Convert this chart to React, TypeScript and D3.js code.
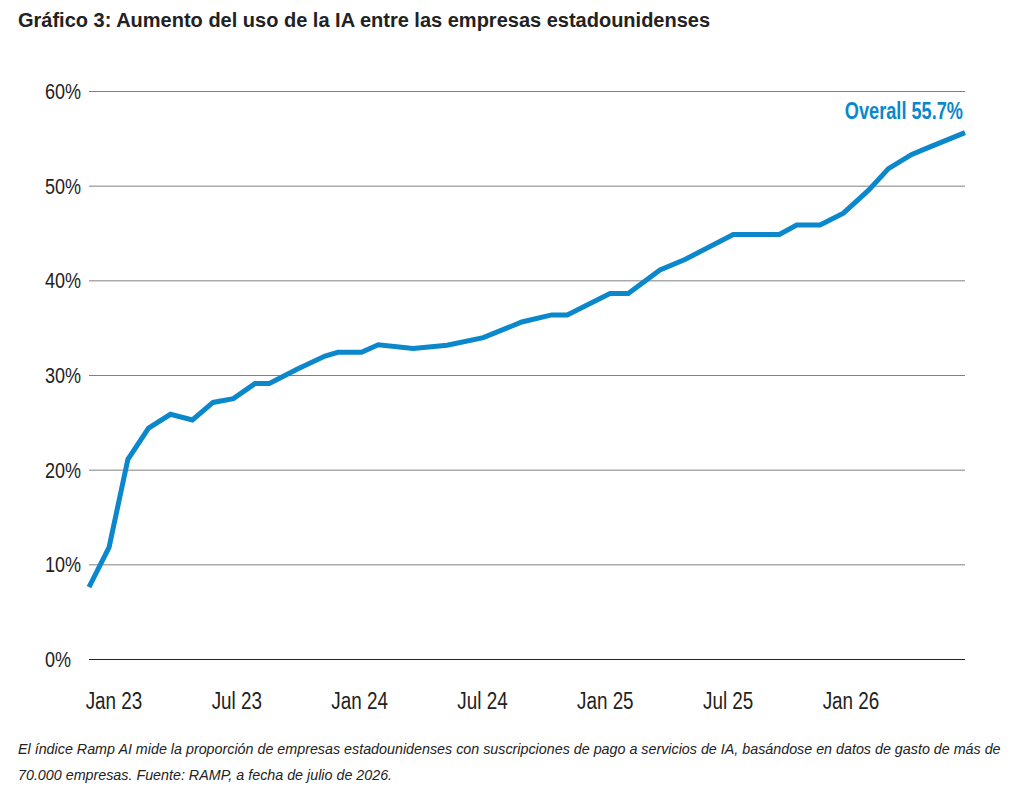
import React, { useEffect, useRef } from "react";
import * as d3 from "d3";

// x values are months counted from Jan 2023
const monthsFromJan23 = [
  -1.22, -0.24, 0.68, 1.69, 2.76, 3.83, 4.84, 5.83, 6.89, 7.59, 8.94, 10.31,
  10.94, 12.09, 12.91, 14.61, 16.27, 18.04, 19.92, 21.38, 22.14, 24.23, 25.12,
  26.67, 27.89, 30.25, 32.5, 33.35, 34.49, 35.63, 36.85, 37.83, 38.97, 39.86,
  41.57,
];
const overallShare = [
  7.6, 11.8, 21.1, 24.4, 25.85, 25.25, 27.1, 27.5, 29.1, 29.1, 30.6, 32.0,
  32.4, 32.4, 33.2, 32.8, 33.15, 33.95, 35.6, 36.35, 36.35, 38.6, 38.6, 41.1,
  42.2, 44.85, 44.85, 45.85, 45.85, 47.1, 49.5, 51.8, 53.3, 54.1, 55.6,
];
const xTickMonths = [0, 6, 12, 18, 24, 30, 36];
const xTickLabels = ["Jan 23", "Jul 23", "Jan 24", "Jul 24", "Jan 25", "Jul 25", "Jan 26"];
const yTicks = [0, 10, 20, 30, 40, 50, 60];

const title = "Gráfico 3: Aumento del uso de la IA entre las empresas estadounidenses";
const endLabel = "Overall 55.7%";
const notes = [
  "El índice Ramp AI mide la proporción de empresas estadounidenses con suscripciones de pago a servicios de IA, basándose en datos de gasto de más de",
  "70.000 empresas. Fuente: RAMP, a fecha de julio de 2026.",
];

const W = 1020;
const H = 807;
const BLUE = "#0a88cb";
const SANS = "'Liberation Sans', Arial, sans-serif";
// no narrow face installed, so squeeze the regular one
const NARROW_X = 0.82;

const App = () => {
  const ref = useRef<SVGSVGElement>(null);

  useEffect(() => {
    if (!ref.current) return;
    const svg = d3.select(ref.current);
    svg.selectAll("*").remove();

    const x = d3.scaleLinear().domain([monthsFromJan23[0], monthsFromJan23[monthsFromJan23.length - 1]]).range([89, 965]);
    const y = d3.scaleLinear().domain([0, 60]).range([659, 91]);

    svg
      .append("text")
      .attr("x", 18)
      .attr("y", 27)
      .attr("font-family", SANS)
      .attr("font-weight", "bold")
      .attr("font-size", 20)
      .attr("fill", "#222")
      .text(title);

    // grid
    svg
      .append("g")
      .selectAll("line")
      .data(yTicks)
      .join("line")
      .attr("x1", 89)
      .attr("x2", 965)
      .attr("y1", (d) => y(d) + 0.5)
      .attr("y2", (d) => y(d) + 0.5)
      .attr("stroke", (d) => (d === 0 ? "#222" : "#808080"))
      .attr("stroke-width", 1);

    svg
      .append("g")
      .selectAll("text")
      .data(yTicks)
      .join("text")
      .attr("transform", (d) => `translate(45,${y(d) + 8}) scale(${NARROW_X},1)`)
      .attr("font-family", SANS)
      .attr("font-size", 22)
      .attr("fill", "#222")
      .text((d) => `${d}%`);

    svg
      .append("g")
      .selectAll("text")
      .data(xTickMonths)
      .join("text")
      .attr("transform", (d) => `translate(${x(d)},709) scale(${NARROW_X},1)`)
      .attr("text-anchor", "middle")
      .attr("font-family", SANS)
      .attr("font-size", 23)
      .attr("fill", "#222")
      .text((d, i) => xTickLabels[i]);

    const pts = monthsFromJan23.map((m, i) => [m, overallShare[i]] as [number, number]);
    const line = d3
      .line<[number, number]>()
      .x((d) => x(d[0]))
      .y((d) => y(d[1]));

    svg
      .append("path")
      .attr("d", line(pts))
      .attr("fill", "none")
      .attr("stroke", BLUE)
      .attr("stroke-width", 5);

    svg
      .append("text")
      .attr("transform", `translate(963,119) scale(0.79,1)`)
      .attr("text-anchor", "end")
      .attr("font-family", SANS)
      .attr("font-weight", "bold")
      .attr("font-size", 23)
      .attr("fill", BLUE)
      .text(endLabel);

    svg
      .append("g")
      .selectAll("text")
      .data(notes)
      .join("text")
      .attr("x", 18)
      .attr("y", (d, i) => 754 + i * 26)
      .attr("font-family", SANS)
      .attr("font-style", "italic")
      .attr("font-size", 14.3)
      .attr("fill", "#222")
      .text((d) => d);
  }, []);

  return (
    <div style={{ position: "absolute", left: 0, top: 0 }}>
      <svg ref={ref} width={W} height={H} style={{ display: "block", background: "#fff" }} />
    </div>
  );
};

export default App;
